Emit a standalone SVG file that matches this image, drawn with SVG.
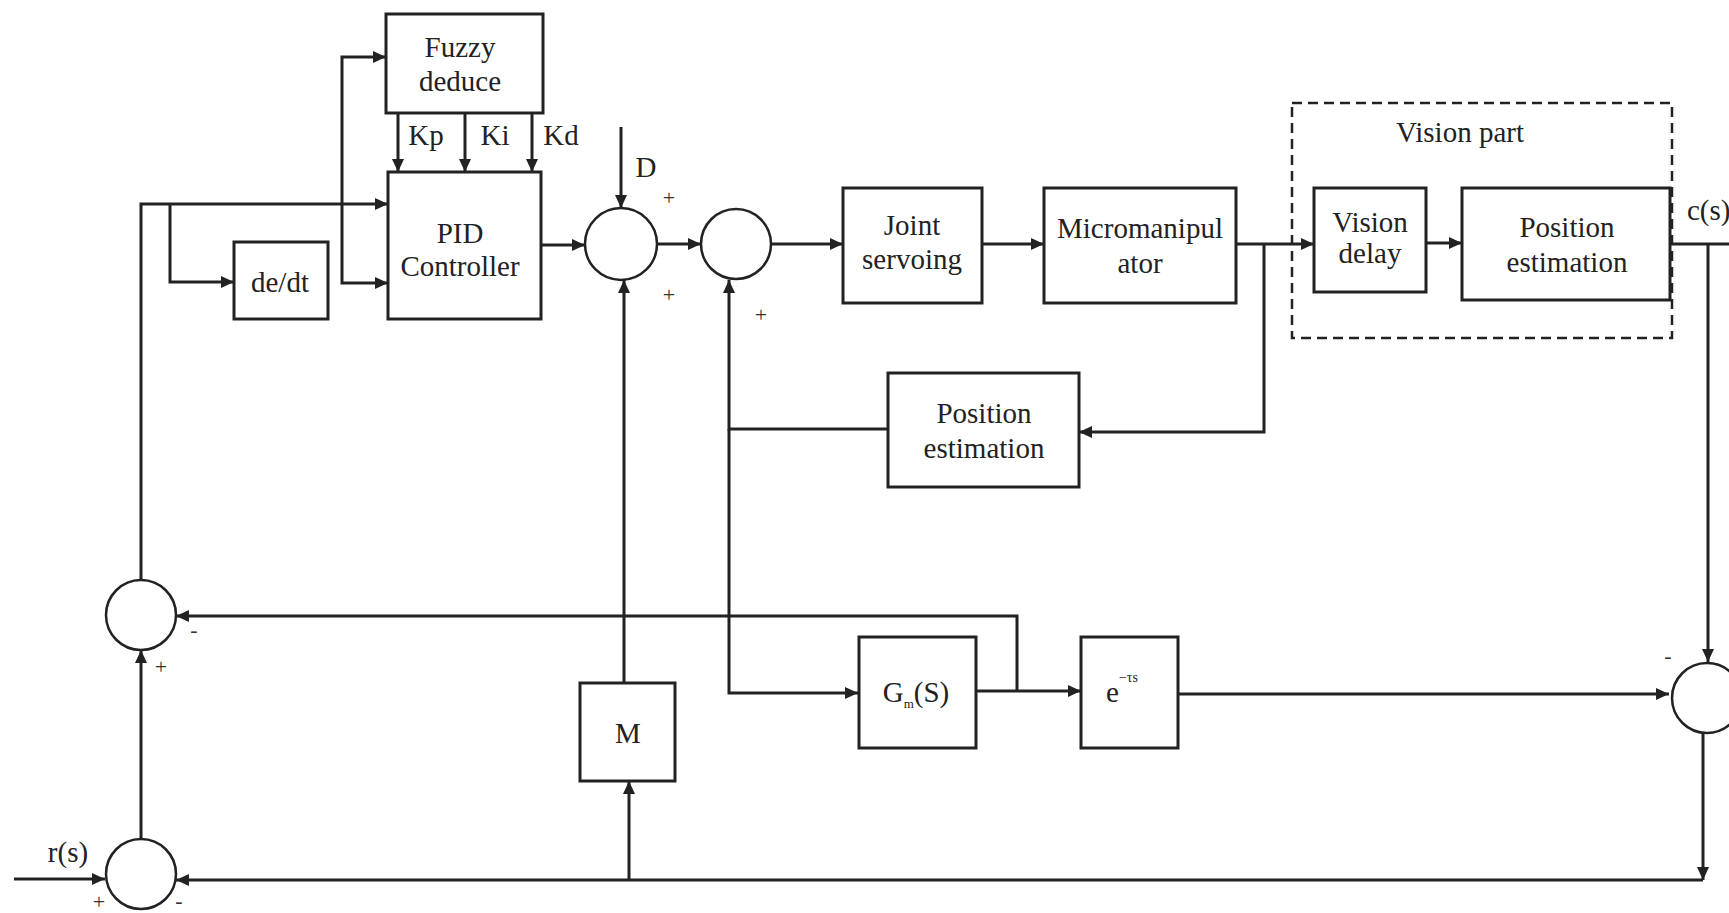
<svg xmlns="http://www.w3.org/2000/svg" width="1729" height="913" viewBox="0 0 1729 913">
<style>
.box{fill:#fff;stroke:#222;stroke-width:3}
.sum{fill:#fff;stroke:#222;stroke-width:2.5}
.ln{fill:none;stroke:#222;stroke-width:3}
.ar{fill:none;stroke:#222;stroke-width:3;marker-end:url(#ah)}
.t{font-family:"Liberation Serif","Times New Roman",serif;font-size:29px;fill:#222;text-anchor:middle}
.s{font-family:"Liberation Serif","Times New Roman",serif;font-size:22px;fill:#333;text-anchor:middle}
.dash{fill:none;stroke:#222;stroke-width:2.5;stroke-dasharray:10 6}
</style>
<defs>
<marker id="ah" markerUnits="userSpaceOnUse" markerWidth="13" markerHeight="12" refX="13" refY="6" orient="auto">
<path d="M0,0 L13,6 L0,12 z" fill="#222"/>
</marker>
</defs>
<rect width="1729" height="913" fill="#fff"/>

<g id="connectors">
<path class="ar" d="M541 245 H585"/>
<path class="ar" d="M621 127 V208"/>
<path class="ar" d="M657 244 H701"/>
<path class="ar" d="M771 244 H843"/>
<path class="ar" d="M982 244 H1044"/>
<path class="ar" d="M1236 244 H1314"/>
<path class="ar" d="M1426 243 H1462"/>
<path class="ln" d="M1670 244 H1729"/>
<path class="ar" d="M1708 244 V662"/>
<path class="ar" d="M1264 244 V432 H1079"/>
<path class="ar" d="M888 429 H729 V280"/>
<path class="ar" d="M729 429 V693 H858"/>
<path class="ar" d="M976 691 H1081"/>
<path class="ar" d="M1017 691 V616 H176"/>
<path class="ar" d="M1178 694 H1669"/>
<path class="ar" d="M1703 733 V880"/>
<path class="ar" d="M1703 880 H176"/>
<path class="ar" d="M629 880 V781"/>
<path class="ar" d="M624 683 V280"/>
<path class="ar" d="M14 879 H105"/>
<path class="ar" d="M141 838 V650"/>
<path class="ar" d="M141 580 V204 H388"/>
<path class="ar" d="M170 204 V282 H234"/>
<path class="ar" d="M342 170 V57 H386"/>
<path class="ar" d="M342 170 V283 H388"/>
<path class="ar" d="M398 113 V172"/>
<path class="ar" d="M465 113 V172"/>
<path class="ar" d="M532 113 V172"/>
</g>

<g id="fuzzy">
<rect class="box" x="386" y="14" width="157" height="99"/>
<text class="t" x="460" y="57">Fuzzy</text>
<text class="t" x="460" y="91">deduce</text>
</g>
<g id="gain-labels">
<text class="t" x="426" y="145">Kp</text>
<text class="t" x="495" y="145">Ki</text>
<text class="t" x="561" y="145">Kd</text>
</g>
<g id="pid">
<rect class="box" x="388" y="172" width="153" height="147"/>
<text class="t" x="460" y="243">PID</text>
<text class="t" x="460" y="276">Controller</text>
</g>
<g id="dedt">
<rect class="box" x="234" y="242" width="94" height="77"/>
<text class="t" x="280" y="292">de/dt</text>
</g>
<g id="sum1">
<circle class="sum" cx="621" cy="244" r="36"/>
<text class="t" x="646" y="177">D</text>
<text class="s" x="669" y="205">+</text>
<text class="s" x="669" y="302">+</text>
</g>
<g id="sum2">
<circle class="sum" cx="736" cy="244" r="35"/>
<text class="s" x="761" y="322">+</text>
</g>
<g id="joint">
<rect class="box" x="843" y="188" width="139" height="115"/>
<text class="t" x="912" y="235">Joint</text>
<text class="t" x="912" y="269">servoing</text>
</g>
<g id="micro">
<rect class="box" x="1044" y="188" width="192" height="115"/>
<text class="t" x="1140" y="238">Micromanipul</text>
<text class="t" x="1140" y="273">ator</text>
</g>
<g id="vision-part">
<rect class="dash" x="1292" y="103" width="380" height="235"/>
<text class="t" x="1460" y="142">Vision part</text>
</g>
<g id="vision-delay">
<rect class="box" x="1314" y="188" width="112" height="104"/>
<text class="t" x="1370" y="232">Vision</text>
<text class="t" x="1370" y="263">delay</text>
</g>
<g id="pos-est-vision">
<rect class="box" x="1462" y="188" width="208" height="112"/>
<text class="t" x="1567" y="237">Position</text>
<text class="t" x="1567" y="272">estimation</text>
</g>
<g id="cs-label">
<text class="t" x="1687" y="220" style="text-anchor:start">c(s)</text>
</g>
<g id="pos-est">
<rect class="box" x="888" y="373" width="191" height="114"/>
<text class="t" x="984" y="423">Position</text>
<text class="t" x="984" y="458">estimation</text>
</g>
<g id="gm">
<rect class="box" x="859" y="637" width="117" height="111"/>
<text class="t" x="916" y="702">G<tspan font-size="13" dy="6">m</tspan><tspan dy="-6">(S)</tspan></text>
</g>
<g id="delay">
<rect class="box" x="1081" y="637" width="97" height="111"/>
<text class="t" x="1122" y="702">e<tspan font-size="14" dy="-20">−τs</tspan></text>
</g>
<g id="m-block">
<rect class="box" x="580" y="683" width="95" height="98"/>
<text class="t" x="628" y="743">M</text>
</g>
<g id="sum-upper-left">
<circle class="sum" cx="141" cy="615" r="35"/>
<text class="s" x="194" y="637">-</text>
<text class="s" x="161" y="674">+</text>
</g>
<g id="sum-lower-left">
<circle class="sum" cx="141" cy="874" r="35"/>
<text class="t" x="68" y="862">r(s)</text>
<text class="s" x="99" y="909">+</text>
<text class="s" x="179" y="908">-</text>
</g>
<g id="sum-right">
<circle class="sum" cx="1707" cy="698" r="35"/>
<text class="s" x="1668" y="663">-</text>
</g>
</svg>
